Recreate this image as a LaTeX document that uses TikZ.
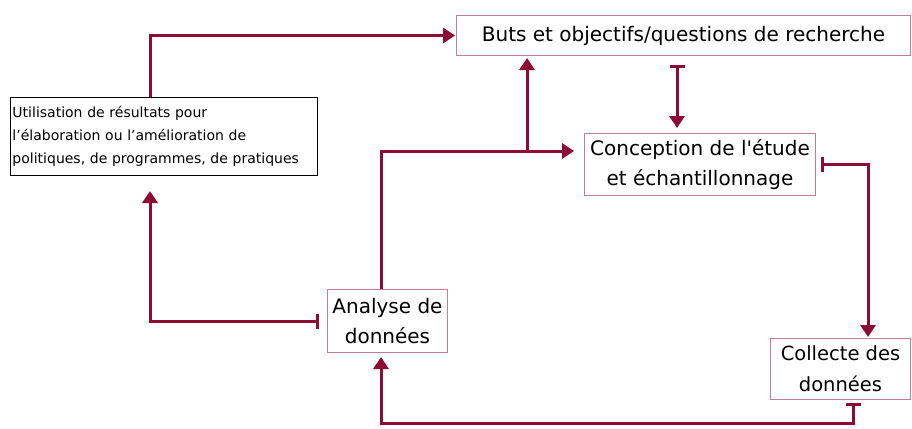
\documentclass[tikz,border=0pt]{standalone}
\usepackage{fontspec}
\setmainfont{DejaVu Sans}
\usetikzlibrary{arrows.meta}
\definecolor{maroon}{RGB}{140,12,52}
\definecolor{boxline}{RGB}{195,125,150}
\newcommand{\sq}{\XeTeXglyph\XeTeXcharglyph"0027\relax}
\begin{document}
\begin{tikzpicture}[x=1pt,y=-1pt,
  box/.style={draw=boxline, line width=1pt, anchor=north west, inner sep=0pt, align=center, font=\fontsize{20}{30}\selectfont},
  link/.style={draw=maroon, line width=3pt},
  tip/.style={-{Triangle[length=12pt,width=15pt]}},
  bartip/.style={{Bar[width=15pt]}-{Triangle[length=12pt,width=15pt]}},
]
\useasboundingbox[fill=white] (0,0) rectangle (912,428);

\node[box, minimum width=454pt, minimum height=40pt] (buts) at (456,15) {Buts et objectifs/questions de recherche};
\node[draw=black, line width=1pt, anchor=north west, inner sep=2pt, minimum height=78pt, text width=303pt, align=left, font=\fontsize{14}{23}\selectfont] (use) at (10,97) {Utilisation de résultats pour\\l’élaboration ou l’amélioration de\\politiques, de programmes, de pratiques};
\node[box, minimum width=231pt, minimum height=62pt] (conc) at (584,133) {Conception de l\sq étude\\et échantillonnage};
\node[box, minimum width=120pt, minimum height=63pt] (ana) at (327,289) {Analyse de\\données};
\node[box, minimum width=140pt, minimum height=61pt, font=\fontsize{19.5}{31}\selectfont] (coll) at (770,338) {Collecte des\\données};

\coordinate (k1) at (150,0);
\coordinate (k2) at (381,151);
\coordinate (k3) at (527,0);
\coordinate (k4) at (677,0);
\coordinate (k5) at (868,0);
\coordinate (k6) at (853,423);

\draw[link,tip,shorten >=1pt] (use.north -| k1) |- (buts.west);
\draw[link,bartip,shorten <=8pt,shorten >=15pt] (ana.west) -| (use.south -| k1);
\draw[link,tip,shorten >=10pt] (ana.north -| k2) -- (k2) -- (conc.west |- k2);
\draw[link,tip,shorten >=2pt] (k2 -| k3) -- (buts.south -| k3);
\draw[link,bartip,shorten <=9pt,shorten >=5pt] (buts.south -| k4) -- (conc.north -| k4);
\draw[link,bartip,shorten <=5pt,shorten >=1pt] (conc.east) -| (coll.north -| k5);
\draw[link,bartip,shorten <=3pt,shorten >=4pt] (coll.south -| k6) -- (k6) -| (ana.south -| k2);
\end{tikzpicture}
\end{document}
